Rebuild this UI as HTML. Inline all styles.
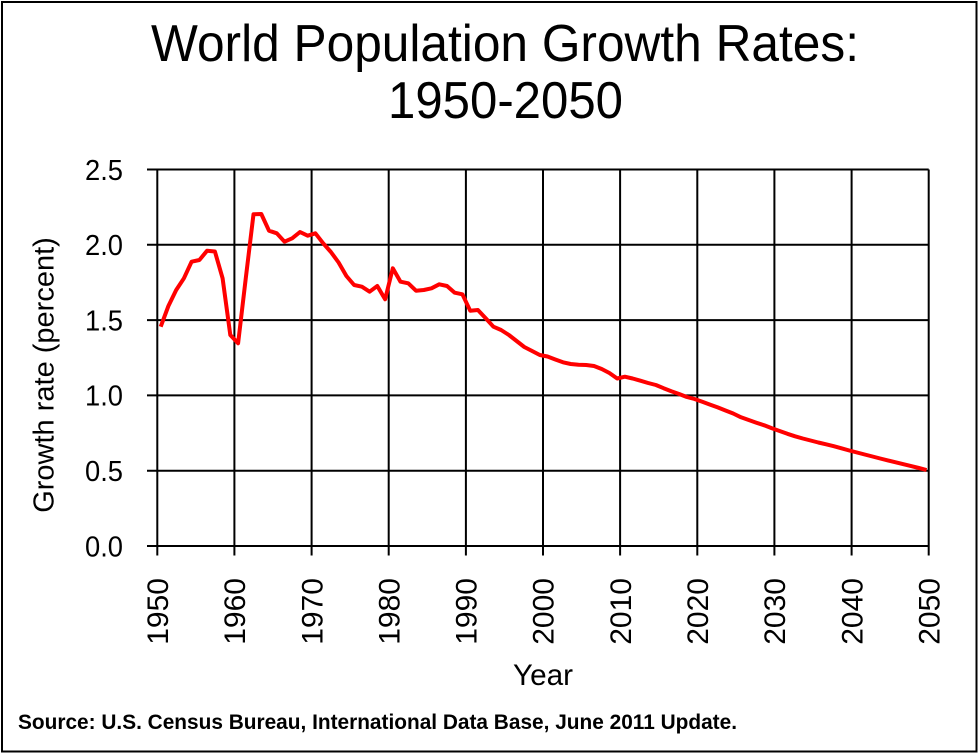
<!DOCTYPE html>
<html>
<head>
<meta charset="utf-8">
<style>
  html,body{margin:0;padding:0;background:#fff;}
  svg{display:block;}
  text{font-family:"Liberation Sans", Arial, sans-serif;fill:#000;}
</style>
</head>
<body>
<svg width="979" height="754" viewBox="0 0 979 754" xmlns="http://www.w3.org/2000/svg">
  <rect x="0" y="0" width="979" height="754" fill="#fff"/>
  <rect x="2" y="2" width="974.5" height="749.5" fill="none" stroke="#000" stroke-width="2"/>

  <!-- Title -->
  <text x="151" y="61" font-size="52" textLength="708" lengthAdjust="spacingAndGlyphs">World Population Growth Rates:</text>
  <text x="388" y="118" font-size="52" textLength="235" lengthAdjust="spacingAndGlyphs">1950-2050</text>

  <!-- Grid lines -->
  <g stroke="#000" stroke-width="2" fill="none">
    <!-- horizontal (with left ticks) -->
    <line x1="147" y1="169.5" x2="928.7" y2="169.5"/>
    <line x1="147" y1="244.8" x2="928.7" y2="244.8"/>
    <line x1="147" y1="320.1" x2="928.7" y2="320.1"/>
    <line x1="147" y1="395.4" x2="928.7" y2="395.4"/>
    <line x1="147" y1="470.7" x2="928.7" y2="470.7"/>
    <line x1="147" y1="546" x2="928.7" y2="546"/>
    <!-- vertical (with bottom ticks) -->
    <line x1="157.3" y1="169.5" x2="157.3" y2="555.5"/>
    <line x1="234.4" y1="169.5" x2="234.4" y2="555.5"/>
    <line x1="311.6" y1="169.5" x2="311.6" y2="555.5"/>
    <line x1="388.7" y1="169.5" x2="388.7" y2="555.5"/>
    <line x1="465.9" y1="169.5" x2="465.9" y2="555.5"/>
    <line x1="543.0" y1="169.5" x2="543.0" y2="555.5"/>
    <line x1="620.1" y1="169.5" x2="620.1" y2="555.5"/>
    <line x1="697.3" y1="169.5" x2="697.3" y2="555.5"/>
    <line x1="774.4" y1="169.5" x2="774.4" y2="555.5"/>
    <line x1="851.6" y1="169.5" x2="851.6" y2="555.5"/>
    <line x1="928.7" y1="169.5" x2="928.7" y2="555.5"/>
  </g>

  <!-- Y tick labels -->
  <g font-size="29" text-anchor="end">
    <text x="123" y="179.8" textLength="38" lengthAdjust="spacingAndGlyphs">2.5</text>
    <text x="123" y="255.1" textLength="38" lengthAdjust="spacingAndGlyphs">2.0</text>
    <text x="123" y="330.4" textLength="38" lengthAdjust="spacingAndGlyphs">1.5</text>
    <text x="123" y="405.7" textLength="38" lengthAdjust="spacingAndGlyphs">1.0</text>
    <text x="123" y="481.0" textLength="38" lengthAdjust="spacingAndGlyphs">0.5</text>
    <text x="123" y="556.3" textLength="38" lengthAdjust="spacingAndGlyphs">0.0</text>
  </g>

  <!-- X tick labels (rotated) -->
  <g font-size="30" text-anchor="end">
    <text transform="translate(168.0,578) rotate(-90)">1950</text>
    <text transform="translate(245.1,578) rotate(-90)">1960</text>
    <text transform="translate(322.3,578) rotate(-90)">1970</text>
    <text transform="translate(399.4,578) rotate(-90)">1980</text>
    <text transform="translate(476.6,578) rotate(-90)">1990</text>
    <text transform="translate(553.7,578) rotate(-90)">2000</text>
    <text transform="translate(630.8,578) rotate(-90)">2010</text>
    <text transform="translate(708.0,578) rotate(-90)">2020</text>
    <text transform="translate(785.1,578) rotate(-90)">2030</text>
    <text transform="translate(862.3,578) rotate(-90)">2040</text>
    <text transform="translate(939.4,578) rotate(-90)">2050</text>
  </g>

  <!-- Axis titles -->
  <text x="543" y="685" font-size="30" text-anchor="middle" textLength="60" lengthAdjust="spacingAndGlyphs">Year</text>
  <text transform="translate(53.5,375) rotate(-90)" font-size="29" text-anchor="middle">Growth rate (percent)</text>

  <!-- Data line -->
  <polyline fill="none" stroke="#ff0000" stroke-width="4" stroke-linejoin="round" stroke-linecap="butt"
    points="160.7,326.7 168.4,306 176.2,290 183.9,278.3 191.6,261.7 199.4,260 207.1,250.7 214.9,251.5 222.6,278.3 230.3,335 238.1,343.3 245.8,278 253.5,214.3 261.3,214 269,230.7 276.8,233.3 284.5,241.7 292.2,238.3 300,232 307.7,235.7 315.4,233.3 323.2,243.3 330.9,252 338.6,262.5 346.4,276 354.1,285 361.9,286.7 369.6,291.7 377.3,286 385.1,299.3 392.8,268.3 400.5,281.7 408.3,283.3 416,290.7 423.8,290 431.5,288.3 439.2,284.3 447,286 454.7,292.7 462.4,294.3 470.2,310.7 477.9,310 485.7,318.3 493.4,326.7 501.1,330 508.9,335 516.6,341 524.3,347 532.1,351 539.8,355 547.5,356.5 555.3,359.5 563,362.3 570.7,364 578.5,364.7 586.2,365 594,366 601.7,369 609.4,373 617.2,378.5 624.9,376.7 632.6,378.5 640.4,380.7 648.1,383 655.9,385 663.6,388.2 671.3,391.2 679.1,394 686.8,397 694.5,399 702.3,401.8 710,404.6 717.7,407.4 725.5,410.5 733.2,413.5 741,417.3 748.7,420 756.4,422.7 764.2,425.3 771.9,428.3 779.6,431 787.4,433.8 795.1,436.3 802.8,438.5 810.6,440.5 818.3,442.5 826.1,444.3 833.8,446.2 841.5,448.3 849.3,450.5 857,452.5 864.7,454.5 872.5,456.5 880.2,458.5 887.9,460.4 895.7,462.3 903.4,464.2 911.1,466.1 918.9,468 926.6,470"/>

  <!-- Source -->
  <text x="18" y="729" font-size="21" font-weight="bold" textLength="719" lengthAdjust="spacingAndGlyphs">Source: U.S. Census Bureau, International Data Base, June 2011 Update.</text>
</svg>
</body>
</html>
